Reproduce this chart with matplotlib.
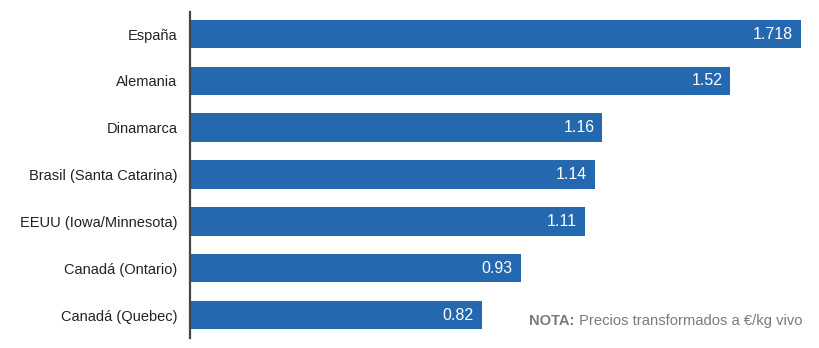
import matplotlib
matplotlib.use("Agg")
import matplotlib.pyplot as plt

plt.rcParams['font.family'] = ['Liberation Sans', 'DejaVu Sans']

paises = ['España', 'Alemania', 'Dinamarca', 'Brasil (Santa Catarina)',
          'EEUU (Iowa/Minnesota)', 'Canadá (Ontario)', 'Canadá (Quebec)']
precios = [1.718, 1.52, 1.16, 1.14, 1.11, 0.93, 0.82]
etiquetas = ['1.718', '1.52', '1.16', '1.14', '1.11', '0.93', '0.82']

azul = '#2468b0'

fig = plt.figure(figsize=(8.2, 3.48), dpi=100)
ax = fig.add_axes([190 / 820, 10 / 348, 630 / 820, 326 / 348])

pos = list(range(len(paises)))
ax.barh(pos, precios, height=0.61, color=azul)

for y, v, t in zip(pos, precios, etiquetas):
    ax.text(v - 0.022, y, t, color='white', fontsize=11.5,
            ha='right', va='center')

ax.set_xlim(0, 1.772)
ax.set_ylim(6.49, -0.47)
ax.set_yticks(pos)
ax.set_yticklabels(paises, fontsize=10.5, color='#222222')
ax.tick_params(axis='y', length=0, pad=9)
ax.set_xticks([])

for s in ['top', 'right', 'bottom']:
    ax.spines[s].set_visible(False)
ax.spines['left'].set_color('#444444')
ax.spines['left'].set_linewidth(1.6)

# nota al pie
nota = fig.text(529 / 820, 1 - 321 / 348, 'NOTA:', fontsize=10.6, color='#7a7a7a',
                fontweight='bold', va='center', ha='left')
ax.annotate('Precios transformados a €/kg vivo', xy=(1, 0.5), xycoords=nota,
            xytext=(3, 0), textcoords='offset points',
            fontsize=10.6, color='#7a7a7a', va='center', ha='left')

fig.savefig('out.png', dpi=100)
